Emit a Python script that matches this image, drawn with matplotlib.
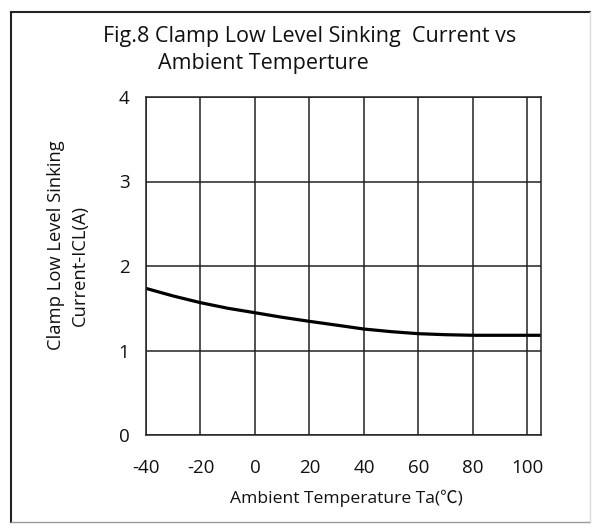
import matplotlib
matplotlib.use("Agg")
import matplotlib.pyplot as plt
from matplotlib.lines import Line2D

temps = [-40, -30, -20, -10, 0, 10, 20, 30, 40, 50, 60, 70, 80, 90, 105]
current = [1.735, 1.645, 1.566, 1.50, 1.447, 1.393, 1.345, 1.30, 1.254, 1.223, 1.199, 1.187, 1.18, 1.18, 1.18]
xticks = [-40, -20, 0, 20, 40, 60, 80, 100]
yticks = [0, 1, 2, 3, 4]

plt.rcParams["axes.unicode_minus"] = False

W, H = 595, 525
fig = plt.figure(figsize=(W / 100, H / 100), dpi=100)
fig.patch.set_facecolor("white")

def fx(px):
    return px / W

def fy(py):
    return 1 - py / H

ax = fig.add_axes([fx(146), fy(435), fx(541) - fx(146), fy(97) - fy(435)])
ax.plot(temps, current, color="black", lw=2.3, solid_capstyle="butt")
ax.set_xlim(-40, 105)
ax.set_ylim(0, 4)
ax.set_xticks(xticks)
ax.set_yticks(yticks)
ax.grid(True, color="#222222", lw=1.1)
ax.set_axisbelow(True)
for s in ax.spines.values():
    s.set_color("#222222")
    s.set_linewidth(1.1)
ax.tick_params(length=0, labelsize=13.5, labelcolor="#111111")
ax.tick_params(axis="x", pad=17)
ax.tick_params(axis="y", pad=12)
for lab in ax.get_xticklabels() + ax.get_yticklabels():
    lab.set_family(["Open Sans", "DejaVu Sans"])

fam = ["Open Sans", "Noto Sans CJK SC", "DejaVu Sans"]
fig.text(fx(103), fy(42), "Fig.8 Clamp Low Level Sinking  Current vs", fontsize=15.5,
         family=fam, ha="left", va="baseline", color="#111111")
fig.text(fx(158), fy(69), "Ambient Temperture", fontsize=15.5,
         family=fam, ha="left", va="baseline", color="#111111")

fig.text(fx(56), fy(245), "Clamp Low Level Sinking", fontsize=13.2, family=fam,
         rotation=90, ha="center", va="center", color="#111111")
fig.text(fx(80), fy(265), "Current-ICL(A)", fontsize=13.2, family=fam,
         rotation=90, ha="center", va="center", color="#111111")

fig.text(fx(346), fy(503), "Ambient Temperature Ta(℃)", fontsize=12.6, family=fam,
         ha="center", va="baseline", color="#111111")

# outer frame
fig.add_artist(Line2D([fx(11), fx(11)], [fy(12), fy(522)], color="#222222", lw=1.5))
fig.add_artist(Line2D([fx(11), fx(590)], [fy(12), fy(12)], color="#222222", lw=1.5))
fig.add_artist(Line2D([fx(11), fx(590)], [fy(522), fy(522)], color="#999999", lw=1.0))
fig.add_artist(Line2D([fx(590), fx(590)], [fy(12), fy(522)], color="#dddddd", lw=1.0))

fig.savefig("out.png", dpi=100)
